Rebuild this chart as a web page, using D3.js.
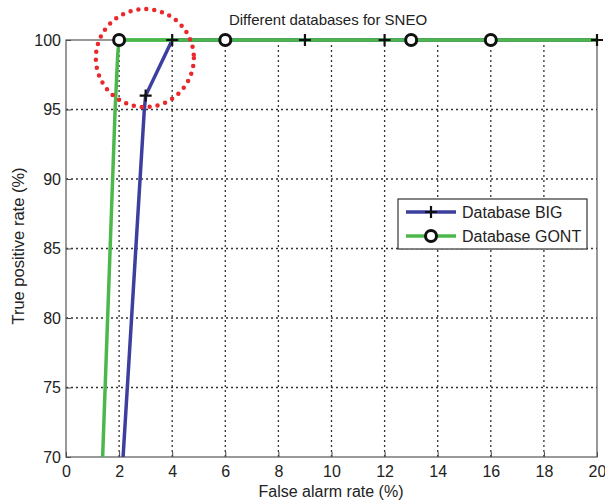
<!DOCTYPE html>
<html><head><meta charset="utf-8">
<script src="https://cdn.jsdelivr.net/npm/d3@7"></script>
<style>body{margin:0;background:#fff}svg{display:block}text{font-family:"Liberation Sans",Arial,sans-serif;fill:#222}</style>
</head><body><svg id="c" width="605" height="504"></svg>
<script>
const xTicks=[0,2,4,6,8,10,12,14,16,18,20];
const yTicks=[70,75,80,85,90,95,100];
const bigLine=[[2.15,70],[2.95,95],[3,96],[4,100],[9,100],[12,100],[20,100]];
const bigMarkers=[[3,96],[4,100],[9,100],[12,100],[20,100]];
const gontLine=[[1.38,70],[1.85,95],[1.95,99],[2,100],[6,100],[13,100],[16,100],[20,100]];
const gontMarkers=[[2,100],[6,100],[13,100],[16,100]];
const highlight={x:2.97,y:98.7};

const svg=d3.select("#c");
const L=66,R=597,T=40,B=457;
const x=d3.scaleLinear().domain([0,20]).range([L,R]);
const y=d3.scaleLinear().domain([70,100]).range([B,T]);

// grid
const g=svg.append("g");
g.selectAll(".vg").data(xTicks.slice(1,-1)).join("line")
 .attr("x1",d=>x(d)).attr("x2",d=>x(d)).attr("y1",T).attr("y2",B)
 .attr("stroke","#333").attr("stroke-width",1.3).attr("stroke-dasharray","2,3");
g.selectAll(".hg").data(yTicks.slice(1,-1)).join("line")
 .attr("y1",d=>y(d)).attr("y2",d=>y(d)).attr("x1",L).attr("x2",R)
 .attr("stroke","#333").attr("stroke-width",1.3).attr("stroke-dasharray","2,3");

// axes
const xa=svg.append("g").attr("transform",`translate(0,${B})`)
 .call(d3.axisBottom(x).tickValues(xTicks).tickSize(-5).tickPadding(9));
const ya=svg.append("g").attr("transform",`translate(${L},0)`)
 .call(d3.axisLeft(y).tickValues(yTicks).tickSize(-5).tickPadding(5));
[xa,ya].forEach(a=>{a.select(".domain").remove();a.selectAll("line").attr("stroke","#444");
 a.selectAll("text").attr("font-size",16).attr("font-family","Liberation Sans, Arial, sans-serif").attr("fill","#222");});
svg.append("rect").attr("x",L).attr("y",T).attr("width",R-L).attr("height",B-T)
 .attr("fill","none").attr("stroke","#555").attr("stroke-width",1.2);

const line=d3.line().x(d=>x(d[0])).y(d=>y(d[1]));
svg.append("path").datum(gontLine).attr("d",line).attr("fill","none").attr("stroke","#4cb84c").attr("stroke-width",3.5);
svg.append("path").datum(bigLine).attr("d",line).attr("fill","none").attr("stroke","#3c3f9e").attr("stroke-width",3.5);
svg.append("path").datum(gontLine.slice(3)).attr("d",line).attr("fill","none").attr("stroke","#4cb84c").attr("stroke-width",3.5);

const plus=(sel,cx,cy)=>{sel.append("path").attr("d",`M${cx-6},${cy}H${cx+6}M${cx},${cy-6}V${cy+6}`).attr("stroke","#111").attr("stroke-width",2.2);};
bigMarkers.forEach(d=>plus(svg,x(d[0]),y(d[1])));
svg.selectAll(".om").data(gontMarkers).join("circle").attr("cx",d=>x(d[0])).attr("cy",d=>y(d[1])).attr("r",5.5)
 .attr("fill","#fff").attr("stroke","#111").attr("stroke-width",3);

// highlight circle
svg.append("circle").attr("cx",x(highlight.x)).attr("cy",y(highlight.y)).attr("r",49)
 .attr("fill","none").attr("stroke","#e8282a").attr("stroke-width",4.5).attr("stroke-dasharray","0,8").attr("stroke-linecap","round");

// title & labels
svg.append("text").attr("x",328).attr("y",25).attr("text-anchor","middle").attr("font-size",15).text("Different databases for SNEO");
svg.append("text").attr("x",331).attr("y",497).attr("text-anchor","middle").attr("font-size",16).text("False alarm rate (%)");
svg.append("text").attr("transform",`translate(24,246) rotate(-90)`).attr("text-anchor","middle").attr("font-size",16.5).text("True positive rate (%)");

// legend
const lg=svg.append("g");
lg.append("rect").attr("x",398).attr("y",199).attr("width",189).attr("height",50).attr("fill","#fff").attr("stroke","#333").attr("stroke-width",1.2);
const items=[{n:"Database BIG",c:"#3c3f9e",m:"plus"},{n:"Database GONT",c:"#4cb84c",m:"o"}];
items.forEach((it,i)=>{const yy=212+i*24;
 lg.append("line").attr("x1",406).attr("x2",456).attr("y1",yy).attr("y2",yy).attr("stroke",it.c).attr("stroke-width",3.5);
 if(it.m==="plus")plus(lg,431,yy);else lg.append("circle").attr("cx",431).attr("cy",yy).attr("r",5.5).attr("fill","#fff").attr("stroke","#111").attr("stroke-width",3);
 lg.append("text").attr("x",462).attr("y",yy+6).attr("font-size",16).text(it.n);});
</script></body></html>
